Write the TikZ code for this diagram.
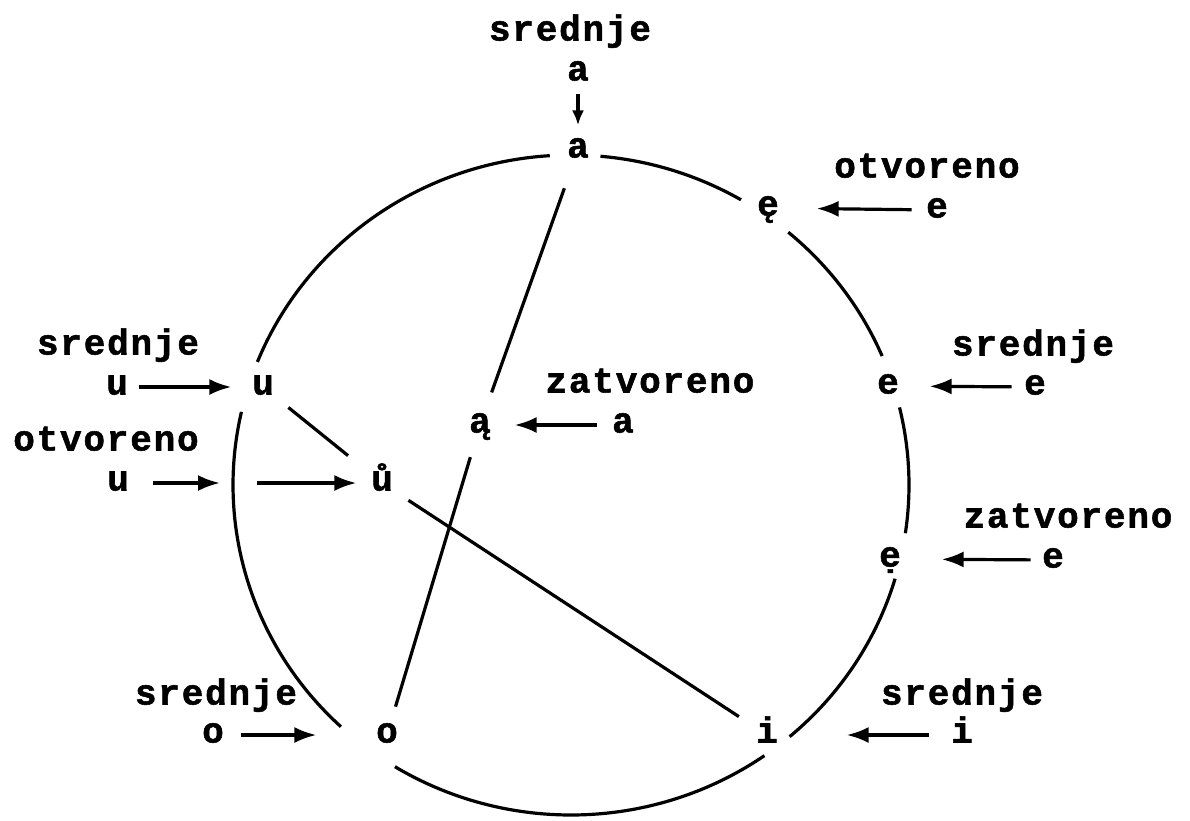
\documentclass[tikz,border=0pt]{standalone}
\usepackage{fontspec}
\newfontfamily\typew[LetterSpace=5,BoldFeatures={FakeBold=1.5}]{Liberation Mono}
\usetikzlibrary{arrows.meta}

\begin{document}
\begin{tikzpicture}[x=1pt, y=-1pt, line width=3.2pt,
  font=\typew\bfseries\fontsize{36}{40}\selectfont,
  vow/.style={circle, inner sep=0pt, minimum size=60pt, text height=15pt, text depth=0pt},
  src/.style={inner sep=0pt, text height=15pt, text depth=0pt},
  capt/.style={inner sep=0pt, text height=15pt, text depth=0pt},
  arr/.style={-{Latex[length=22pt,width=16pt]}},
  arrsm/.style={-{Latex[length=15pt,width=12pt]}}]

\useasboundingbox (0,0) rectangle (1190,820);

% --- vowels on the ring ---
\node[vow] (a)  at (578,150) {a};
\node[vow] (eo) at (768,208) {ę};
\node[vow] (e)  at (888,386) {e};
\node[vow] (ez) at (890,559) {ẹ};
\node[vow] (i)  at (767,735) {i};
\node[vow] (o)  at (387,735) {o};
\node[vow] (u)  at (263,387) {u};
% --- vowels inside ---
\node[vow] (az) at (480,425) {ą};
\node[vow] (uo) at (382,483) {ů};

% --- ring, broken at each vowel ---
\foreach \p/\q in {275/300.2, 310/337, 346.4/368.4, 16.5/49.7, 55.1/121.4, 132.9/192.8, 201.9/266.4}
  \draw (571,485) ++(\p:338 and 330) arc[start angle=\p, end angle=\q, x radius=338, y radius=330];
\coordinate (cross) at (233,483);

% --- chords ---
\draw[shorten <=9pt, shorten >=3pt] (a) -- (az);
\draw[shorten <=2pt, shorten >=-2pt] (az) -- (o);
\draw[shorten <=1pt, shorten >=12pt] (u) -- (uo);
\draw[shorten >=2pt] (uo) -- (i);

% --- captions ---
\node[capt] (capA)  at (570,33)   {srednje};
\node[capt] (capEo) at (927,170)  {otvoreno};
\node[capt] (capE)  at (1033,348) {srednje};
\node[capt] (capEz) at (1068,520) {zatvoreno};
\node[capt] (capI)  at (962,697)  {srednje};
\node[capt] (capO)  at (216,697)  {srednje};
\node[capt] (capU)  at (118,347)  {srednje};
\node[capt] (capUo) at (106,443)  {otvoreno};
\node[capt] (capAz) at (650,385)  {zatvoreno};

% --- source letters and arrows ---
\node[src] (aS)  at (578,73)   {a};
\node[src] (eoS) at (937,210)  {e};
\node[src] (eS)  at (1035,387) {e};
\node[src] (ezS) at (1053,560) {e};
\node[src] (iS)  at (962,735)  {i};
\node[src] (oS)  at (213,735)  {o};
\node[src] (uS)  at (117,387)  {u};
\node[src] (uoS) at (118,483)  {u};
\node[src] (azS) at (623,425)  {a};

\draw[arrsm, shorten <=12pt, shorten >=-7pt] (aS) -- (a);
\draw[arr, shorten <=13pt, shorten >=17pt] (eoS) -- (eo);
\draw[arr, shorten <=11pt, shorten >=10pt] (eS) -- (e);
\draw[arr, shorten <=10pt, shorten >=20pt] (ezS) -- (ez);
\draw[arr, shorten <=21pt, shorten >=48pt] (iS) -- (i);
\draw[arr, shorten <=16pt, shorten >=39pt] (oS) -- (o);
\draw[arr, shorten <=10pt] (uS) -- (u);
\draw[arr, shorten <=23pt, shorten >=13pt] (uoS) -- (cross);
\draw[arr, shorten <=24pt, shorten >=-6pt] (cross) -- (uo);
\draw[arr, shorten <=14pt, shorten >=3pt] (azS) -- (az);
\end{tikzpicture}
\end{document}
